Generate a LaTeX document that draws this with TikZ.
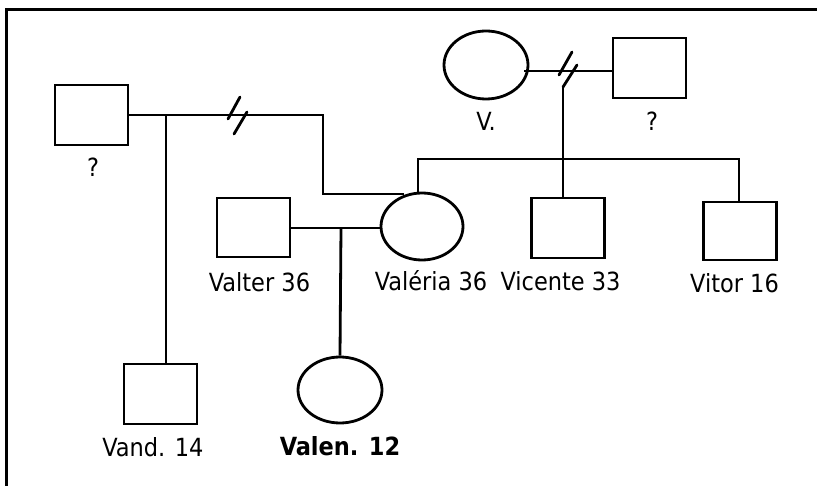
\documentclass[tikz,border=0pt]{standalone}
\usepackage{fontspec}
\setmainfont{DejaVu Sans Condensed}
\usetikzlibrary{shapes.geometric}
\begin{document}
\begin{tikzpicture}[x=1pt,y=-1pt,
  sq/.style={draw, line width=2.8pt, rectangle, minimum width=73pt, minimum height=60pt, inner sep=0pt},
  ell/.style={draw, line width=2.8pt, ellipse, inner sep=0pt},
  lbl/.style={anchor=base, font=\fontsize{25}{30}\selectfont, inner sep=0pt},
  ln/.style={line width=2.8pt},
  brk/.style={line width=2.8pt, line cap=round}]
\useasboundingbox (0,0) rectangle (817,486);
% frame
\draw[line width=3.2pt] (6.5,495) -- (6.5,9.5) -- (825,9.5);

% persons
\node[sq] (q1) at (91.5,115) {};
\node[ell, minimum width=84pt, minimum height=68pt] (vm) at (486,65) {};
\node[sq] (q2) at (649.5,68) {};
\node[sq, minimum height=59pt] (valter) at (253.5,227.5) {};
\node[ell, minimum width=82pt, minimum height=67pt] (valeria) at (422,226.5) {};
\node[sq] (vicente) at (568,228) {};
\node[sq, minimum height=58pt] (vitor) at (740,231) {};
\node[sq] (vand) at (160.5,394) {};
\node[ell, minimum width=84pt, minimum height=66pt] (valen) at (340,390) {};

% labels
\node[lbl] (lq1) at (93,177) {?};
\node[lbl] (lvm) at (486,131) {V.};
\node[lbl] (lq2) at (652,131) {?};
\node[lbl] (lvalter) at (259.5,292) {Valter 36};
\node[lbl] (lvaleria) at (431,291) {Valéria 36};
\node[lbl] (lvicente) at (560.5,291) {Vicente 33};
\node[lbl] (lvitor) at (734.5,293) {Vitor 16};
\node[lbl] (lvand) at (153,456) {Vand. 14};
\node[lbl, font=\fontsize{25}{30}\selectfont\bfseries] (lvalen) at (340,455) {Valen. 12};

% coordinates
\coordinate (a1) at (166,115);
\coordinate (a2) at (323,115);
\coordinate (a3) at (323,194);
\coordinate (a4) at (404,194);
\coordinate (m2) at (341,228);
\coordinate (b1) at (524,71);
\coordinate (b2) at (563,88);
\coordinate (s1) at (418,159);
\coordinate (s2) at (739,159);

% left union
\draw[ln] (q1.east) -- (a2) -- (a3) -- (a4);
\draw[ln] (a1) -- (a1 |- vand.north);
\draw[brk] (228,119) -- (240,97);
\draw[brk] (234,134) -- (247,112);

% Valter - Valeria
\draw[ln] (valter.east |- m2) -- (valeria.west |- m2);
\draw[ln] (m2) -- (valen.north);

% V. - ?
\draw[ln] (b1) -- (q2.west |- b1);
\draw[brk] (559,75) -- (572,52);
\draw[brk] (563,87) -- (577,65);
\draw[ln] (b2) -- (b2 |- vicente.north);
\draw[ln] (valeria.north -| s1) -- (s1) -- (s2) -- (s2 |- vitor.north);
\end{tikzpicture}
\end{document}
